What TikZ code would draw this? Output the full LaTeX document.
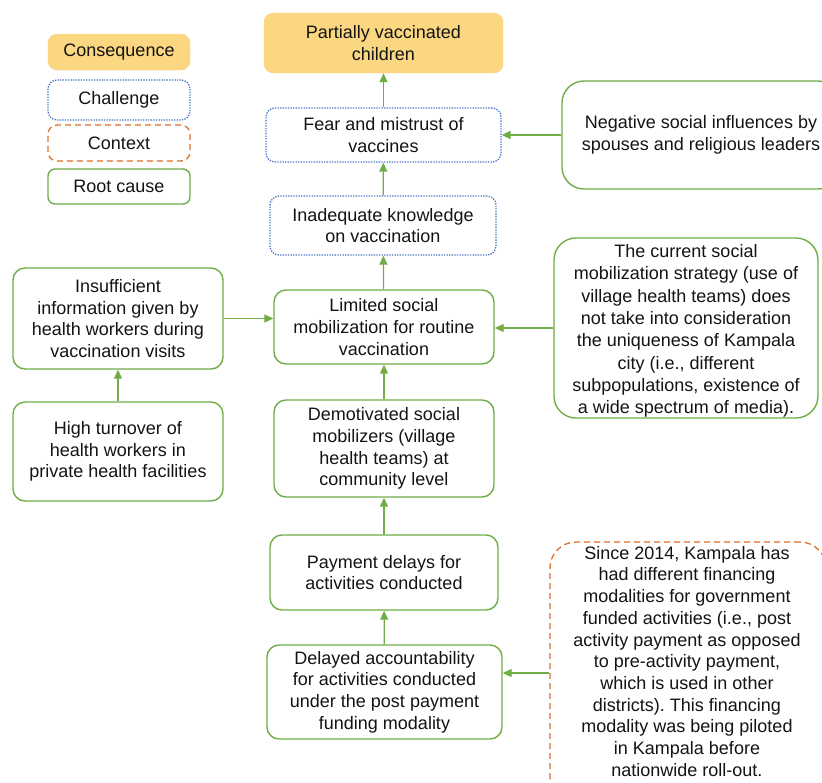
\documentclass[tikz,border=0pt]{standalone}
\usepackage{fontspec}
\setmainfont{Liberation Sans}
\usetikzlibrary{arrows.meta}
\frenchspacing
\definecolor{cgreen}{RGB}{112,173,71}
\definecolor{cblue}{RGB}{68,114,196}
\definecolor{corange}{RGB}{222,110,40}
\definecolor{cyellow}{RGB}{250,215,128}
\tikzset{
  x=1pt, y=-1pt,
  base/.style={inner sep=0pt, align=center, font=\fontsize{18}{21.7}\selectfont, text=black!92},
  conseq/.style={base, fill=cyellow, draw=cyellow, rounded corners=9pt},
  challenge/.style={base, draw=cblue, line width=1.3pt, dash pattern=on 1.3pt off 1.3pt, rounded corners=9pt},
  contextbox/.style={base, draw=corange, line width=1.3pt, dash pattern=on 6pt off 4pt, rounded corners=9pt},
  rootbox/.style={base, draw=cgreen, line width=1.4pt, rounded corners=12pt},
  bigroot/.style={rootbox, rounded corners=22pt},
  bigcontext/.style={contextbox, rounded corners=26pt},
  arr/.style={draw=cgreen, line width=1.2pt, -{Triangle[length=9pt,width=8pt]}}
}
\begin{document}
\begin{tikzpicture}
\clip (0,0) rectangle (822,782);
\fill[white] (0,0) rectangle (822,782);
% legend
\node[conseq, minimum width=142pt, minimum height=36pt] (lg1) at (119,52) {Consequence};
\node[challenge, minimum width=142pt, minimum height=40pt] (lg2) at (119,100) {Challenge};
\node[contextbox, minimum width=142pt, minimum height=36pt] (lg3) at (119,143) {Context};
\node[rootbox, rounded corners=7pt, minimum width=142pt, minimum height=35pt] (lg4) at (119,186.5) {Root cause};
% main column
\node[conseq, minimum width=239pt, minimum height=60pt] (pvc) at (383.5,43) {Partially vaccinated\\children};
\node[challenge, minimum width=235pt, minimum height=54pt] (fear) at (383.5,135) {Fear and mistrust of\\vaccines};
\node[challenge, minimum width=226pt, minimum height=59pt] (inad) at (383,225.5) {Inadequate knowledge\\on vaccination};
\node[rootbox, minimum width=220pt, minimum height=74pt] (lim) at (384,327) {Limited social\\mobilization for routine\\vaccination};
\node[rootbox, minimum width=220pt, minimum height=97pt] (demot) at (384,448.5) {Demotivated social\\mobilizers (village\\health teams) at\\community level};
\node[rootbox, minimum width=228pt, minimum height=75pt] (pay) at (384,572.5) {Payment delays for\\activities conducted};
\node[rootbox, minimum width=235pt, minimum height=94pt] (delay) at (384.5,692) {Delayed accountability\\for activities conducted\\under the post payment\\funding modality};
% right
\node[bigroot, minimum width=278pt, minimum height=108pt] (neg) at (701,135) {Negative social influences by\\spouses and religious leaders};
\node[bigroot, minimum width=264pt, minimum height=180pt] (cur) at (686,328) {};
\node[base, font=\fontsize{18}{22.3}\selectfont] (curtxt) at (686,331) {The current social\\mobilization strategy (use of\\village health teams) does\\not take into consideration\\the uniqueness of Kampala\\city (i.e., different\\subpopulations, existence of\\a wide spectrum of media).};
\node[bigcontext, minimum width=276pt, minimum height=262pt] (since) at (688,673) {};
\node[base, anchor=north] (sincetxt) at (687,546) {Since 2014, Kampala has\\had different financing\\modalities for government\\funded activities (i.e., post\\activity payment as opposed\\to pre-activity payment,\\which is used in other\\districts). This financing\\modality was being piloted\\in Kampala before\\nationwide roll-out.};
% left
\node[rootbox, minimum width=210pt, minimum height=101pt] (insuff) at (118,318.5) {Insufficient\\information given by\\health workers during\\vaccination visits};
\node[rootbox, minimum width=210pt, minimum height=99pt] (high) at (118,451.5) {High turnover of\\health workers in\\private health facilities};
% arrows
\draw[arr] (fear) -- (pvc);
\draw[arr] (inad) -- (fear);
\draw[arr] (lim) -- (inad);
\draw[arr] (demot) -- (lim);
\draw[arr] (pay) -- (demot);
\draw[arr] (delay) -- (pay);
\draw[arr] (high) -- (insuff);
\draw[arr] (neg.west) -- (fear.east |- neg.west);
\draw[arr] (cur.west) -- (lim.east |- cur.west);
\draw[arr] (insuff.east) -- (lim.west |- insuff.east);
\draw[arr] (since.west) -- (delay.east |- since.west);
\end{tikzpicture}
\end{document}
